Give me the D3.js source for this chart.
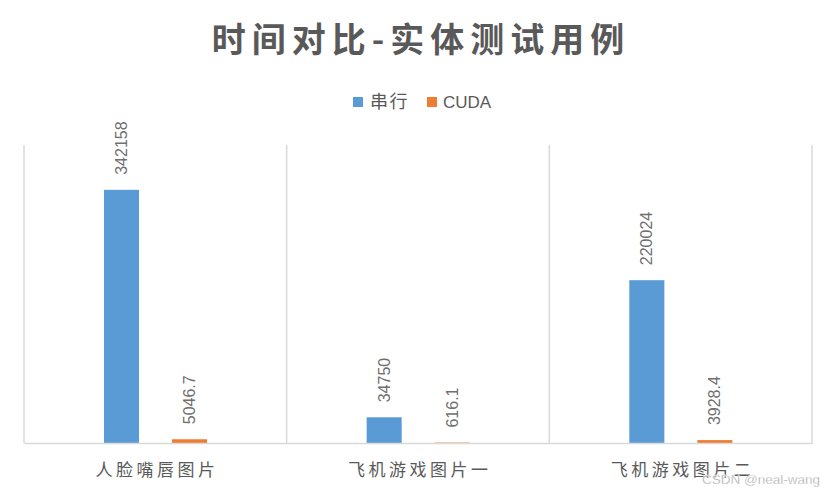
<!DOCTYPE html>
<html><head><meta charset="utf-8">
<script src="https://cdn.jsdelivr.net/npm/d3@7"></script>
<style>body{margin:0;background:#fff}svg{display:block}</style>
</head><body><svg id="c" width="836" height="495"></svg>
<script>
const title = "时间对比-实体测试用例";
const categories = ["人脸嘴唇图片", "飞机游戏图片一", "飞机游戏图片二"];
const seriesNames = ["串行", "CUDA"];
const serialValues = [342158, 34750, 220024];
const cudaValues = [5046.7, 616.1, 3928.4];
const valueLabels = [["342158", "34750", "220024"], ["5046.7", "616.1", "3928.4"]];
const yMax = 400000;
const colors = ["#5b9bd5", "#ed7d31"];

const svg = d3.select("#c");
const pLeft = 24, pRight = 812, pTop = 145, pBottom = 443;
const cjk = "'Noto Sans CJK SC', sans-serif";
const lat = "'Liberation Sans', Arial, sans-serif";

const x0 = d3.scaleBand().domain(categories).range([pLeft, pRight]).padding(0);
const bw = x0.bandwidth();
const x1 = d3.scaleBand().domain(seriesNames).range([bw * 0.3045, bw * 0.697]).paddingInner(0.485).paddingOuter(0);
const y = d3.scaleLinear().domain([0, yMax]).range([pBottom, 147]);

// title
svg.append("text").attr("x", 418 + 3).attr("y", 52).attr("text-anchor", "middle")
  .attr("font-family", cjk).attr("font-weight", "bold").attr("font-size", 34)
  .attr("letter-spacing", 6).attr("fill", "#595959").text(title);

// gridlines (vertical category separators)
const seps = categories.map(c => x0(c)).concat([pRight]);
svg.append("g").selectAll("line").data(seps).join("line")
  .attr("x1", d => d).attr("x2", d => d).attr("y1", pTop).attr("y2", pBottom)
  .attr("stroke", "#d9d9d9").attr("stroke-width", 1.5);

// bars
const data = categories.map((c, i) => ({c, vals: [serialValues[i], cudaValues[i]], i}));
const g = svg.append("g");
data.forEach(d => {
  d.vals.forEach((v, s) => {
    const bx = x0(d.c) + x1(seriesNames[s]);
    g.append("rect").attr("x", bx).attr("width", x1.bandwidth())
      .attr("y", y(v)).attr("height", pBottom - y(v)).attr("fill", colors[s]);
    const cx = bx + x1.bandwidth() / 2;
    const ly = y(v) - 15;
    g.append("text").attr("transform", `translate(${cx + 5.5},${ly}) rotate(-90)`)
      .attr("font-family", lat).attr("font-size", 16).attr("fill", "#6f6f6f")
      .attr("text-anchor", "start").text(valueLabels[s][d.i]);
  });
});

// baseline axis
const xAxis = d3.axisBottom(x0).tickSize(0).tickPadding(0);
const ax = svg.append("g").attr("transform", `translate(0,${pBottom})`).call(xAxis);
ax.select(".domain").attr("stroke", "#d9d9d9").attr("stroke-width", 1.5);
ax.selectAll(".tick text").attr("y", 33).attr("dy", 0)
  .attr("font-family", cjk).attr("font-size", 17).attr("letter-spacing", 3.5)
  .attr("fill", "#595959").attr("dx", 1.75);

// legend
const legendItems = [{name: seriesNames[0], x: 353}, {name: seriesNames[1], x: 427}];
const lg = svg.append("g");
legendItems.forEach((it, i) => {
  lg.append("rect").attr("x", it.x).attr("y", 97).attr("width", 10).attr("height", 10).attr("fill", colors[i]);
  lg.append("text").attr("x", it.x + (i === 0 ? 17 : 16)).attr("y", 108)
    .attr("font-family", i === 0 ? cjk : lat).attr("font-size", i === 0 ? 18 : 17)
    .attr("letter-spacing", i === 0 ? 1.5 : 0)
    .attr("fill", "#595959").text(it.name);
});

// watermark
svg.append("text").attr("x", 820).attr("y", 484).attr("text-anchor", "end")
  .attr("font-family", lat).attr("font-size", 13.5).attr("fill", "#a6a6a6")
  .attr("stroke", "#ffffff").attr("stroke-width", 0.3)
  .text("CSDN @neal-wang");
</script></body></html>
